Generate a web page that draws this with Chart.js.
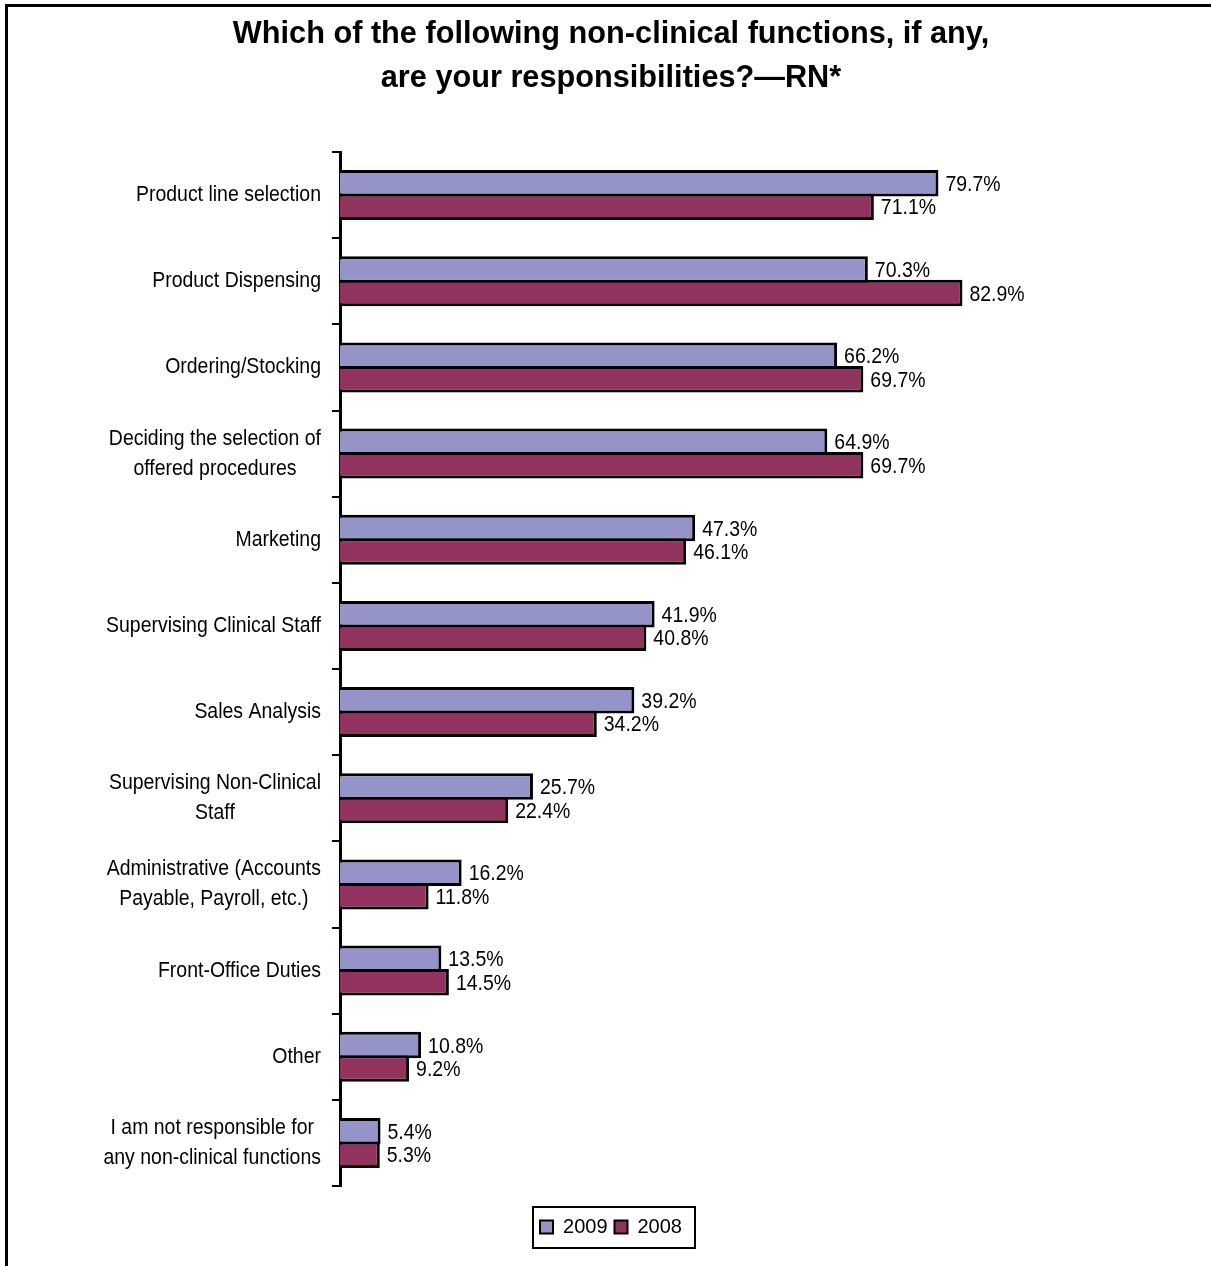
<!DOCTYPE html>
<html>
<head>
<meta charset="utf-8">
<title>Non-clinical functions - RN</title>
<script src="https://cdn.jsdelivr.net/npm/chart.js@4.4.1/dist/chart.umd.min.js"></script>
<style>
    html, body { margin: 0; padding: 0; background: #fff; }
    #wrap { position: relative; width: 1211px; height: 1266px; overflow: hidden; }
    #chart { position: absolute; left: 0; top: 0; }
    #frame {
        position: absolute; left: 5px; top: 4px; width: 1400px; height: 1400px;
        border-left: 3px solid #000; border-top: 3px solid #000; pointer-events: none;
    }
</style>
</head>
<body>
<div id="wrap">
    <canvas id="chart" width="1211" height="1266"></canvas>
    <div id="frame"></div>
</div>
<script>
const FONT = "'Liberation Sans', Arial, sans-serif";
// labels use a slightly condensed face: draw at 22px, squeeze horizontally
const LABEL_SIZE = 22;
const LABEL_SQUEEZE = 0.885;

const titleLines = ['Which of the following non-clinical functions, if any,', 'are your responsibilities?\u2014RN*'];

const categories = [
    ['Product line selection'],
    ['Product Dispensing'],
    ['Ordering/Stocking'],
    ['Deciding the selection of', 'offered procedures'],
    ['Marketing'],
    ['Supervising Clinical Staff'],
    ['Sales Analysis'],
    ['Supervising Non-Clinical', 'Staff'],
    ['Administrative (Accounts', 'Payable, Payroll, etc.)'],
    ['Front-Office Duties'],
    ['Other'],
    ['I am not responsible for', 'any non-clinical functions']
];

const seriesNames = ['2009', '2008'];
const values2009 = [79.7, 70.3, 66.2, 64.9, 47.3, 41.9, 39.2, 25.7, 16.2, 13.5, 10.8, 5.4];
const values2008 = [71.1, 82.9, 69.7, 69.7, 46.1, 40.8, 34.2, 22.4, 11.8, 14.5, 9.2, 5.3];

const COLOR_2009 = '#9494C9';
const COLOR_2008 = '#92325E';

function squeezedText(ctx, text, x, y) {
    ctx.save();
    ctx.translate(x, y);
    ctx.scale(LABEL_SQUEEZE, 1);
    ctx.fillText(text, 0, 0);
    ctx.restore();
}

// category names: block right-aligned to the axis, lines centred inside the block
const categoryLabels = {
    id: 'categoryLabels',
    afterDraw(chart) {
        const ctx = chart.ctx;
        const yScale = chart.scales.y;
        const right = chart.chartArea.left - 19;
        ctx.save();
        ctx.font = LABEL_SIZE + 'px ' + FONT;
        ctx.fillStyle = '#000';
        ctx.textAlign = 'center';
        ctx.textBaseline = 'middle';
        categories.forEach((lines, i) => {
            const yc = yScale.getPixelForValue(i);
            const blockW = Math.max(...lines.map(l => ctx.measureText(l).width)) * LABEL_SQUEEZE;
            const x = right - blockW / 2;
            const lh = 30;
            const y0 = yc - (lines.length - 1) * lh / 2;
            lines.forEach((l, k) => squeezedText(ctx, l, x, y0 + k * lh));
        });
        ctx.restore();
    }
};

// value labels at the end of each bar
const valueLabels = {
    id: 'valueLabels',
    afterDatasetsDraw(chart) {
        const ctx = chart.ctx;
        ctx.save();
        ctx.font = LABEL_SIZE + 'px ' + FONT;
        ctx.fillStyle = '#000';
        ctx.textAlign = 'left';
        ctx.textBaseline = 'middle';
        chart.data.datasets.forEach((ds, d) => {
            chart.getDatasetMeta(d).data.forEach((bar, i) => {
                squeezedText(ctx, ds.data[i].toFixed(1) + '%', bar.x + 7, bar.y + 1.5);
            });
        });
        ctx.restore();
    }
};

// box around the legend
const legendFrame = {
    id: 'legendFrame',
    afterDraw(chart) {
        const hb = chart.legend.legendHitBoxes;
        if (!hb || !hb.length) return;
        const first = hb[0];
        const last = hb[hb.length - 1];
        const cy = first.top + first.height / 2;
        const ctx = chart.ctx;
        ctx.save();
        ctx.strokeStyle = '#000';
        ctx.lineWidth = 2;
        ctx.strokeRect(first.left - 7, cy - 20, last.left + last.width + 13 - (first.left - 7), 41);
        ctx.restore();
    }
};

new Chart(document.getElementById('chart'), {
    type: 'bar',
    data: {
        labels: categories,
        datasets: [
            {
                label: seriesNames[0],
                data: values2009,
                backgroundColor: COLOR_2009,
                borderColor: '#000',
                borderWidth: 3
            },
            {
                label: seriesNames[1],
                data: values2008,
                backgroundColor: COLOR_2008,
                borderColor: '#000',
                borderWidth: 3
            }
        ]
    },
    options: {
        indexAxis: 'y',
        responsive: false,
        animation: false,
        categoryPercentage: 0.5455,
        barPercentage: 1.128,
        layout: { padding: { left: 11, right: 0, top: 0, bottom: 19 } },
        scales: {
            x: {
                min: 0,
                max: 116,
                ticks: { display: false },
                grid: { display: false },
                border: { display: false },
                afterFit: scale => { scale.height = 24; }
            },
            y: {
                ticks: { display: false },
                grid: {
                    offset: true,
                    drawOnChartArea: false,
                    drawTicks: true,
                    tickLength: 8,
                    lineWidth: 2,
                    color: '#000'
                },
                border: { display: true, color: '#000', width: 3 },
                afterFit: scale => { scale.width = 329; }
            }
        },
        plugins: {
            title: {
                display: true,
                text: titleLines,
                color: '#000',
                font: { family: FONT, size: 30.7, weight: 'bold', lineHeight: '44px' },
                padding: { top: 13, bottom: 51 }
            },
            legend: {
                position: 'bottom',
                labels: {
                    color: '#000',
                    font: { family: FONT, size: 20 },
                    boxWidth: 13,
                    boxHeight: 13,
                    padding: 7,
                    generateLabels: chart => chart.data.datasets.map((ds, i) => ({
                        text: ds.label,
                        fillStyle: ds.backgroundColor,
                        strokeStyle: '#000',
                        lineWidth: 2,
                        datasetIndex: i,
                        fontColor: '#000',
                        hidden: false
                    }))
                }
            },
            tooltip: { enabled: false }
        }
    },
    plugins: [categoryLabels, valueLabels, legendFrame]
});
</script>
</body>
</html>
